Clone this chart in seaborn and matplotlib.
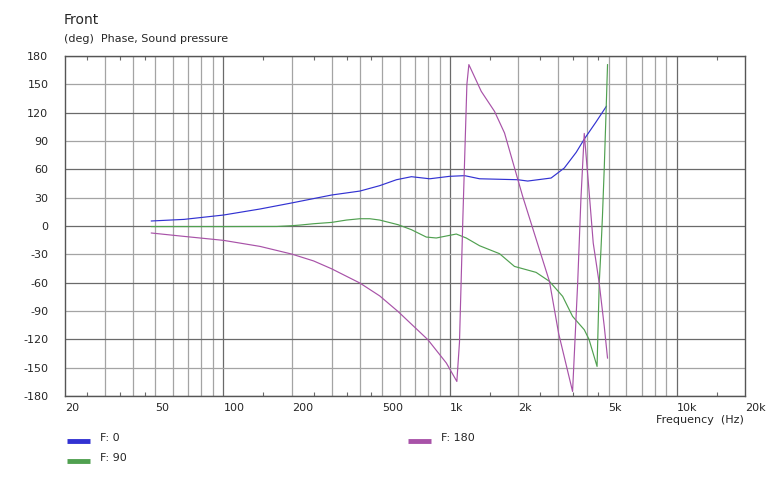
import numpy as np
import pandas as pd
import matplotlib
matplotlib.use("Agg")
import matplotlib.pyplot as plt
import seaborn as sns

# ---- data ----
f0_freq = [48, 67, 100, 145, 200, 300, 400, 489, 580, 675, 813, 995, 1159, 1349,
           1987, 2200, 2790, 3190, 3600, 3907, 4400, 4900]
f0_phase = [5.3, 7.0, 11.6, 18.0, 24.4, 32.8, 37.0, 42.7, 49.0, 52.2, 50.0, 52.6,
            53.3, 50.0, 49.0, 47.6, 50.8, 61.4, 78.0, 92.0, 110.0, 127.0]

f90_freq = [48, 100, 172, 200, 218, 250, 300, 349, 400, 442, 489, 589, 675, 785,
            869, 1065, 1178, 1349, 1652, 1923, 2395, 2743, 3137, 3470, 3907, 4100,
            4450, 4550, 4630, 4700, 4790, 4869, 4950]
f90_phase = [-0.6, -0.6, -0.5, 0.3, 1.0, 2.4, 3.8, 6.3, 7.7, 7.7, 6.3, 1.4, -3.9,
             -11.7, -12.7, -8.5, -12.7, -20.9, -29.3, -42.8, -49.1, -58.6, -74.5,
             -95.7, -109.8, -120.0, -148.7, -60.0, -25.0, 10.0, 63.0, 116.0, 171.0]

f180_freq = [48, 67, 100, 145, 200, 250, 300, 400, 489, 589, 798, 962, 1071, 1100,
             1139, 1186, 1210, 1372, 1570, 1738, 2090, 2478, 2743, 3013, 3470, 3540,
             3655, 3776, 3907, 4075, 4280, 4545, 4786, 4950]
f180_phase = [-7.4, -11.0, -15.2, -21.6, -29.7, -37.0, -45.3, -60.4, -74.0, -90.5,
              -120.4, -145.0, -164.6, -123.0, 10.0, 150.0, 170.9, 142.6, 121.4, 98.5,
              31.4, -25.0, -58.6, -114.0, -175.2, -131.0, -60.0, 28.0, 98.0, 45.5,
              -18.0, -60.0, -106.0, -140.0]

series_names = ["F: 0", "F: 90", "F: 180"]
series_colors = ["#3232d2", "#50a050", "#a852a8"]

x_ticks = [20, 50, 100, 200, 500, 1000, 2000, 5000, 10000, 20000]
x_tick_labels = ["20", "50", "100", "200", "500", "1k", "2k", "5k", "10k", "20k"]
y_ticks = list(range(-180, 181, 30))

major_vgrid = [100, 1000, 10000]
minor_vgrid = [30, 40, 50, 60, 70, 80, 90, 200, 300, 400, 500, 600, 700, 800, 900,
               2000, 3000, 4000, 5000, 6000, 7000, 8000, 9000]
short_ticks = [25, 35, 45, 150, 250, 350, 450, 1500, 2500, 3500, 4500, 15000]

df = pd.concat([
    pd.DataFrame({"freq": f0_freq, "phase": f0_phase, "series": series_names[0]}),
    pd.DataFrame({"freq": f90_freq, "phase": f90_phase, "series": series_names[1]}),
    pd.DataFrame({"freq": f180_freq, "phase": f180_phase, "series": series_names[2]}),
], ignore_index=True)

sns.set_style("white")
plt.rcParams["font.family"] = ["DejaVu Sans"]

fig = plt.figure(figsize=(7.68, 4.92), dpi=100)
ax = fig.add_axes([65 / 768, 1 - 396 / 492, 680 / 768, 340 / 492])

ax.set_xscale("log")
ax.set_xlim(20, 20000)
ax.set_ylim(-180, 180)

light = "#a4a4a4"
dark = "#6a6a6a"
for v in minor_vgrid:
    ax.axvline(v, color=light, lw=0.9, zorder=0)
for v in major_vgrid:
    ax.axvline(v, color=dark, lw=0.9, zorder=0)
for h in y_ticks:
    ax.axhline(h, color=dark if h % 60 == 0 else light, lw=0.9, zorder=0)

sns.lineplot(data=df, x="freq", y="phase", hue="series", palette=series_colors,
             hue_order=series_names, estimator=None, sort=False, lw=0.85,
             legend=False, ax=ax, zorder=3)

ax.set_xticks(x_ticks)
ax.set_xticklabels(x_tick_labels, ha="left", fontsize=8)
ax.set_xticks(short_ticks, minor=True)
ax.set_xticklabels([], minor=True)
ax.tick_params(axis="x", which="major", length=0, pad=5)
ax.tick_params(axis="x", which="minor", direction="in", length=3, width=0.8,
               color=dark, top=True, bottom=True)
ax.set_yticks(y_ticks)
ax.set_yticklabels([str(t) for t in y_ticks], fontsize=8)
ax.tick_params(axis="y", length=0, pad=12)
ax.set_xlabel("")
ax.set_ylabel("")

for s in ax.spines.values():
    s.set_color("#555555")
    s.set_linewidth(1.0)

fig.text(64 / 768, 1 - 20 / 492, "Front", fontsize=10, va="center", ha="left")
fig.text(64 / 768, 1 - 39 / 492, "(deg)  Phase, Sound pressure", fontsize=8,
         va="center", ha="left")
fig.text(744 / 768, 1 - 420 / 492, "Frequency  (Hz)", fontsize=8, va="center",
         ha="right")

legend_pos = [(67, 441), (67, 461), (408, 441)]
for (lx, ly), name, col in zip(legend_pos, series_names, series_colors):
    fig.add_artist(plt.Line2D([lx / 768, (lx + 23) / 768],
                              [1 - ly / 492, 1 - ly / 492],
                              color=col, lw=3.5, solid_capstyle="butt"))
    fig.text((lx + 33) / 768, 1 - (ly - 3) / 492, name, fontsize=8,
             va="center", ha="left")

fig.savefig("out.png", dpi=100)
